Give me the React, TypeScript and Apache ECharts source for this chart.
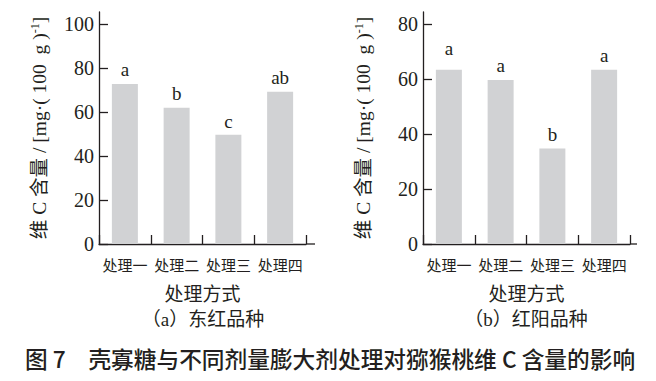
import React, { useEffect, useRef } from "react";
import * as echarts from "echarts";

const categories = ["处理一", "处理二", "处理三", "处理四"];
const valuesA = [72.8, 62.0, 49.7, 69.2];
const lettersA = ["a", "b", "c", "ab"];
const valuesB = [63.4, 59.7, 34.7, 63.4];
const lettersB = ["a", "a", "b", "a"];
const ticksA = [0, 20, 40, 60, 80, 100];
const ticksB = [0, 20, 40, 60, 80];
const labelDistB = [12, 5, 5, 5];
const labelDistA = [5, 5, 4, 5];

const INK = "#231f20";
const BAR = "#d1d2d4";
const SERIF = "'Liberation Serif', 'Times New Roman', 'Noto Sans CJK SC', serif";
const CJK = "'Noto Sans CJK SC', sans-serif";

const yName = "{t|维 C 含量 / [mg·( 100  g )}{s|-1}{t|]}";

function makeY(gridIndex: number, max: number, ticks: number[]) {
  return {
    type: "value",
    gridIndex,
    min: 0,
    max,
    name: yName,
    nameLocation: "middle",
    nameGap: 49,
    nameRotate: 90,
    nameTextStyle: {
      rich: {
        t: { fontFamily: SERIF, fontSize: 19.5, color: INK },
        s: { fontFamily: SERIF, fontSize: 12, color: INK, padding: [0, 0, 9, 0] },
      },
    },
    axisLine: { show: true, lineStyle: { color: INK, width: 1.3 } },
    axisTick: { show: true, inside: true, length: 9, lineStyle: { color: INK, width: 1.3 }, customValues: ticks },
    axisLabel: { show: true, margin: 5, fontFamily: SERIF, fontSize: 20, color: INK, customValues: ticks },
    splitLine: { show: false },
  };
}

function makeX(gridIndex: number) {
  return {
    type: "category",
    gridIndex,
    data: categories,
    boundaryGap: true,
    name: "处理方式",
    nameLocation: "middle",
    nameGap: 39,
    nameTextStyle: { fontFamily: CJK, fontSize: 19, color: INK },
    axisLine: { show: true, lineStyle: { color: INK, width: 1.3 } },
    axisTick: { show: true, inside: true, length: 9, lineStyle: { color: INK, width: 1.3 } },
    axisLabel: { interval: 0, margin: 13, fontFamily: CJK, fontSize: 15, color: INK },
  };
}

function makeSeries(idx: number, values: number[], letters: string[], dists: number[]) {
  return {
    type: "bar",
    xAxisIndex: idx,
    yAxisIndex: idx,
    barWidth: 26,
    itemStyle: { color: BAR },
    data: values.map((v, i) => ({
      value: v,
      label: {
        show: true,
        position: "top",
        distance: dists[i],
        formatter: letters[i],
        fontFamily: SERIF,
        fontSize: 19,
        color: INK,
      },
    })),
  };
}

export default function App() {
  const ref = useRef<HTMLDivElement>(null);
  useEffect(() => {
    if (!ref.current) return;
    const chart = echarts.init(ref.current, null, { renderer: "svg" });
    chart.setOption({
      animation: false,
      backgroundColor: "#ffffff",
      grid: [
        { left: 99, top: 12, width: 207, height: 232 },
        { left: 423, top: 12, width: 207, height: 232 },
      ],
      xAxis: [makeX(0), makeX(1)],
      yAxis: [makeY(0, 105.5, ticksA), makeY(1, 84.4, ticksB)],
      series: [
        makeSeries(0, valuesA, lettersA, labelDistA),
        makeSeries(1, valuesB, lettersB, labelDistB),
      ],
      graphic: [
        { type: "line", shape: { x1: 306, y1: 244, x2: 315, y2: 244 }, style: { stroke: INK, lineWidth: 1.3 } },
        { type: "line", shape: { x1: 630, y1: 244, x2: 637, y2: 244 }, style: { stroke: INK, lineWidth: 1.3 } },
        {
          type: "text",
          x: 203,
          y: 319,
          style: { text: "（a）东红品种", fontFamily: SERIF, fontSize: 19, fill: INK, align: "center", verticalAlign: "middle" },
        },
        {
          type: "text",
          x: 526,
          y: 319,
          style: { text: "（b）红阳品种", fontFamily: SERIF, fontSize: 19, fill: INK, align: "center", verticalAlign: "middle" },
        },
        {
          type: "text",
          x: 25,
          y: 358,
          style: {
            text: "图 7　壳寡糖与不同剂量膨大剂处理对猕猴桃维 C 含量的影响",
            fontFamily: CJK,
            fontSize: 22.7,
            fontWeight: 500,
            fill: INK,
            align: "left",
            verticalAlign: "middle",
          },
        },
      ],
    });
    return () => chart.dispose();
  }, []);
  return <div ref={ref} style={{ position: "fixed", left: 0, top: 0, width: 656, height: 381 }} />;
}
